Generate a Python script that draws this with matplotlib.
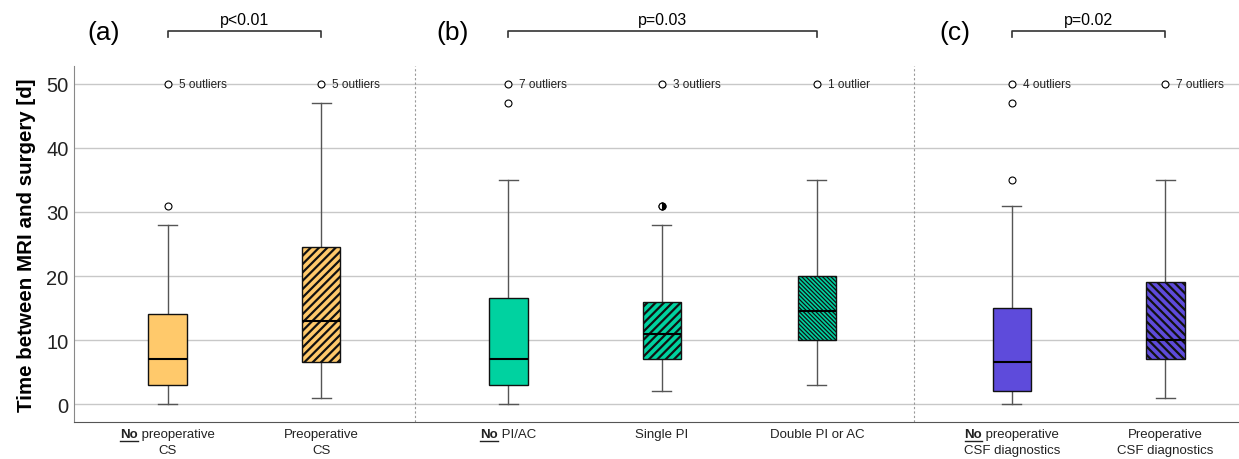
import matplotlib
matplotlib.use('Agg')
import matplotlib.pyplot as plt
import matplotlib.transforms as mtransforms

plt.rcParams['font.family'] = ['Liberation Sans', 'DejaVu Sans']
plt.rcParams['hatch.linewidth'] = 1.6

# box statistics (days)
groups = ['a1', 'a2', 'b1', 'b2', 'b3', 'c1', 'c2']
whislo = [0, 1, 0, 2, 3, 0, 1]
q1 = [3, 6.5, 3, 7, 10, 2, 7]
med = [7, 13, 7, 11, 14.5, 6.5, 10]
q3 = [14, 24.5, 16.5, 16, 20, 15, 19]
whishi = [28, 47, 35, 28, 35, 31, 35]
fliers = [[31, 50], [50], [47, 50], [31, 50], [50], [35, 47, 50], [50]]
outlier_notes = ['5 outliers', '5 outliers', '7 outliers', '3 outliers',
                 '1 outlier', '4 outliers', '7 outliers']

colors = ['#FFC96B', '#FFC96B', '#00D2A0', '#00D2A0', '#00D2A0', '#5E4BDB', '#5E4BDB']
hatches = ['', '////', '', '////', '\\' * 8, '', '\\' * 4]
hatch_lw = [1.6, 1.6, 1.6, 1.6, 0.9, 1.6, 1.6]

# x labels: (bold underlined prefix, rest of line 1, line 2)
xlabels = [('No', ' preoperative', 'CS'), ('', 'Preoperative', 'CS'),
           ('No', ' PI/AC', ''), ('', 'Single PI', ''), ('', 'Double PI or AC', ''),
           ('No', ' preoperative', 'CSF diagnostics'), ('', 'Preoperative', 'CSF diagnostics')]

panels = ['(a)', '(b)', '(c)']
pvalues = ['p<0.01', 'p=0.03', 'p=0.02']
brackets = [(0, 1), (2, 4), (5, 6)]

positions = [0, 1, 2.22, 3.22, 4.23, 5.50, 6.50]

W, H = 1239, 460
fig = plt.figure(figsize=(W / 100, H / 100), dpi=100)
ax = fig.add_axes([74 / W, 37 / H, 1 - 74 / W, 356 / H])

stats = []
for i in range(len(groups)):
    stats.append(dict(whislo=whislo[i], q1=q1[i], med=med[i], q3=q3[i],
                      whishi=whishi[i], fliers=fliers[i], label=groups[i]))

bp = ax.bxp(stats, positions=positions, widths=0.25, patch_artist=True,
            boxprops=dict(edgecolor='#111111', linewidth=1.0),
            medianprops=dict(color='black', linewidth=1.5),
            whiskerprops=dict(color='#555555', linewidth=1.0),
            capprops=dict(color='#555555', linewidth=1.0),
            flierprops=dict(marker='o', markersize=5, markerfacecolor='white',
                            markeredgecolor='black', markeredgewidth=0.8))
for box, c, h, lw in zip(bp['boxes'], colors, hatches, hatch_lw):
    box.set_facecolor(c)
    box.set_hatch(h)
    if hasattr(box, 'set_hatch_linewidth'):
        box.set_hatch_linewidth(lw)
    box.set_zorder(3)
for m in bp['medians']:
    m.set_zorder(4)

# double point at 31 in the single PI group
ax.plot(positions[3], 31, marker='o', markersize=5, markerfacecolor='black',
        markeredgecolor='black', fillstyle='right', markerfacecoloralt='white',
        markeredgewidth=0.8, linestyle='none', zorder=5)

for i, note in enumerate(outlier_notes):
    ax.annotate(note, (positions[i], 50), xytext=(8, 0), textcoords='offset points',
                fontsize=8.5, va='center', ha='left', color='#222222')

ax.set_ylim(-2.8, 52.8)
ax.set_xlim(-0.61, 6.98)
ax.set_yticks([0, 10, 20, 30, 40, 50])
ax.yaxis.grid(True, color='#c8c8c8', linewidth=1.0)
ax.set_axisbelow(True)
ax.tick_params(axis='y', length=0, labelsize=14.5, pad=4, labelcolor='#222222')
ax.set_xticks([])
for s in ['top', 'right']:
    ax.spines[s].set_visible(False)
ax.spines['left'].set_color('#888888')
ax.spines['bottom'].set_color('#555555')
ax.set_ylabel('Time between MRI and surgery [d]', fontsize=14.8, fontweight='bold',
              labelpad=7)

# dotted dividers between the panels
for xd in [(positions[1] + positions[2]) / 2, (positions[4] + positions[5]) / 2]:
    ax.axvline(xd, color='#999999', linestyle=(0, (2, 2)), linewidth=0.8)

blend = mtransforms.blended_transform_factory(ax.transData, fig.transFigure)
renderer = fig.canvas.get_renderer()

def fy(ypx):
    return 1 - ypx / H

# category labels
for i, (bold, rest, line2) in enumerate(xlabels):
    x = positions[i]
    y1 = fy(435)
    if bold:
        t1 = ax.text(x, y1, bold, fontweight='bold', fontsize=9.5, transform=blend,
                     ha='left', va='center', color='#222222')
        t2 = ax.text(x, y1, rest, fontsize=9.5, transform=blend,
                     ha='left', va='center', color='#222222')
        w1 = t1.get_window_extent(renderer).width
        w2 = t2.get_window_extent(renderer).width
        xd = ax.transData.transform((x, 0))[0]
        left = xd - (w1 + w2) / 2
        inv = ax.transData.inverted()
        xl = inv.transform((left, 0))[0]
        xm = inv.transform((left + w1, 0))[0]
        t1.set_x(xl)
        t2.set_x(xm)
        ax.plot([xl, xm], [fy(442), fy(442)], transform=blend, color='#222222',
                linewidth=1.0, clip_on=False)
    else:
        ax.text(x, y1, rest, fontsize=9.5, transform=blend, ha='center', va='center',
                color='#222222')
    if line2:
        ax.text(x, fy(451), line2, fontsize=9.5, transform=blend, ha='center',
                va='center', color='#222222')

# panel letters
for lab, xpx in zip(panels, [104, 453, 955]):
    fig.text(xpx / W, fy(33), lab, fontsize=19, ha='center', va='center')

# significance brackets
for (i0, i1), p in zip(brackets, pvalues):
    x0, x1 = positions[i0], positions[i1]
    ax.plot([x0, x0, x1, x1], [fy(38), fy(32), fy(32), fy(38)], transform=blend,
            color='#333333', linewidth=1.2, clip_on=False)
    ax.text((x0 + x1) / 2, fy(20), p, transform=blend, fontsize=11.5,
            ha='center', va='center')

fig.savefig('out.png', dpi=100)
